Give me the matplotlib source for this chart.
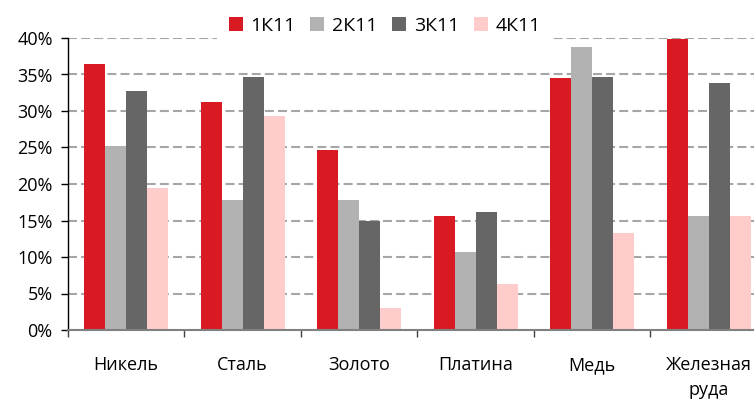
import matplotlib
matplotlib.use("Agg")
import matplotlib.pyplot as plt
import numpy as np

categories = ["Никель", "Сталь", "Золото", "Платина", "Медь", "Железная\nруда"]
series_names = ["1К11", "2К11", "3К11", "4К11"]
q1 = [36.4, 31.2, 24.6, 15.6, 34.5, 39.8]
q2 = [25.2, 17.8, 17.8, 10.7, 38.7, 15.6]
q3 = [32.8, 34.7, 15.0, 16.1, 34.7, 33.9]
q4 = [19.4, 29.3, 3.0, 6.3, 13.3, 15.6]
colors = ["#DA1A22", "#B2B2B2", "#666666", "#FFCCCC"]
yticks = [0, 5, 10, 15, 20, 25, 30, 35, 40]
ytick_labels = ["0%", "5%", "10%", "15%", "20%", "25%", "30%", "35%", "40%"]

plt.rcParams['font.family'] = ['Open Sans', 'DejaVu Sans']

fig = plt.figure(figsize=(7.54, 4.05), dpi=100)
ax = fig.add_axes([68/754, 75/405, (767-68)/754, 292/405])

x = np.arange(len(categories))
w = 0.18
for i, (vals, c, name) in enumerate(zip([q1, q2, q3, q4], colors, series_names)):
    ax.bar(x + (i - 1.5) * w, vals, width=w, color=c, label=name, zorder=3)

ax.set_xlim(-0.5, len(categories) - 0.5)
ax.set_ylim(0, 40)
ax.set_yticks(yticks)
ax.set_yticklabels(ytick_labels, fontsize=13)
ax.set_xticks(x)
ax.set_xticklabels(categories, fontsize=13, linespacing=1.45)
ax.set_xticks(np.arange(len(categories) + 1) - 0.5, minor=True)
ax.tick_params(axis='x', which='major', length=0, pad=19)
ax.tick_params(axis='x', which='minor', length=5, width=1, color='#404040', direction='out')
ax.tick_params(axis='y', length=5, width=1, color='black', pad=6)

for yv in yticks[1:]:
    ax.axhline(yv, color='#A6A6A6', linewidth=1.5, linestyle=(0, (4.3, 2.0)), zorder=1)

for s in ['top', 'right']:
    ax.spines[s].set_visible(False)
ax.spines['left'].set_color('black')
ax.spines['left'].set_linewidth(1.0)
ax.spines['bottom'].set_color('#808080')
ax.spines['bottom'].set_linewidth(1.5)
ax.spines['bottom'].set_zorder(4)

leg = fig.legend(loc='center', bbox_to_anchor=(0.51, 0.937), ncol=4, fontsize=14,
                 frameon=True, facecolor='white', edgecolor='none', framealpha=1,
                 handlelength=0.72, handleheight=0.72, handletextpad=0.4,
                 columnspacing=0.75, borderpad=0.6, fancybox=False)

fig.savefig("out.png", dpi=100)
